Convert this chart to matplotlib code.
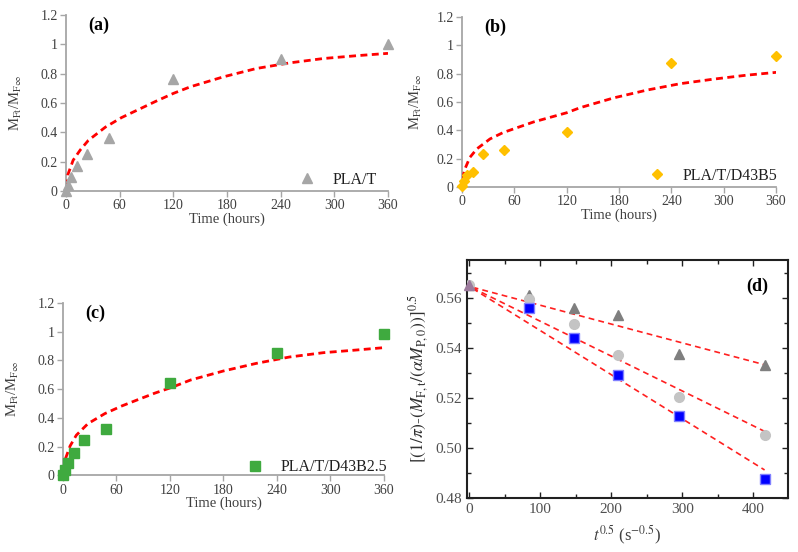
import numpy as np
import matplotlib
matplotlib.use("Agg")
import matplotlib.pyplot as plt
from matplotlib.lines import Line2D

plt.rcParams['font.family'] = 'serif'
plt.rcParams['font.serif'] = ['Liberation Serif', 'DejaVu Serif']
plt.rcParams['mathtext.fontset'] = 'stix'

# ------------------------------------------------------------------------------
# Data
t_a = [0, 2, 6, 12, 24, 48, 120, 240, 360]
y_a = [0.0, 0.04, 0.095, 0.17, 0.25, 0.36, 0.765, 0.9, 1.0]
fit_t_a = [0.5, 2, 8, 16, 25, 44, 62, 81, 100, 120, 139, 176, 213, 250, 288, 325, 360]
fit_y_a = [0.03, 0.11, 0.21, 0.28, 0.345, 0.435, 0.5, 0.555, 0.61, 0.665, 0.71, 0.778, 0.835, 0.873, 0.903, 0.922, 0.938]

t_b = [0, 2, 6, 12, 24, 48, 120, 240, 360]
y_b = [0.01, 0.04, 0.087, 0.11, 0.235, 0.262, 0.39, 0.875, 0.925]
fit_t_b = [0.5, 3.4, 9, 17, 32, 47, 82, 120, 135, 174, 212, 250, 288, 326, 360]
fit_y_b = [0.06, 0.13, 0.21, 0.27, 0.34, 0.385, 0.46, 0.525, 0.56, 0.63, 0.685, 0.73, 0.762, 0.79, 0.81]

t_c = [0, 2, 6, 12, 24, 48, 120, 240, 360]
y_c = [0.005, 0.04, 0.085, 0.155, 0.247, 0.323, 0.645, 0.853, 0.985]
fit_t_c = [0.5, 3, 8, 15, 28, 47, 66, 85, 103, 122, 143, 180, 217, 254, 292, 330, 360]
fit_y_c = [0.04, 0.12, 0.205, 0.28, 0.36, 0.43, 0.483, 0.529, 0.572, 0.612, 0.663, 0.726, 0.779, 0.823, 0.853, 0.872, 0.888]

x_d = [0, 85, 147, 209, 295, 416]
tri_d = [0.5649, 0.5609, 0.5559, 0.5529, 0.5376, 0.5332]
circ_d = [0.5649, 0.5593, 0.5495, 0.5372, 0.5204, 0.5051]
sq_d = [0.5649, 0.5559, 0.5439, 0.5292, 0.5128, 0.4875]
line_x_d = [5, 416]
line_tri_d = [0.5641, 0.5332]
line_circ_d = [0.5638, 0.5066]
line_sq_d = [0.5636, 0.4912]

labels = ['PLA/T', 'PLA/T/D43B5', 'PLA/T/D43B2.5']

# ------------------------------------------------------------------------------
fig = plt.figure(figsize=(7.98, 5.52), dpi=100)

axis_gray = '#A6A6A6'
text_gray = '#404040'


def release_panel(rect, t, y, ft, fy, marker, color, ms, label, tag, leg_xy, ylab_x):
    ax = fig.add_axes(rect)
    ax.plot(ft, fy, color='#FF0000', lw=2, dashes=(2.5, 1.6), zorder=3)
    ax.plot(t, y, linestyle='none', marker=marker, color=color, ms=ms,
            mec=color, clip_on=False, zorder=4)
    ax.set_xlim(0, 360)
    ax.set_ylim(0, 1.2)
    ax.set_xticks(np.arange(0, 361, 60))
    ax.set_yticks([0, 0.2, 0.4, 0.6, 0.8, 1.0, 1.2])
    ax.set_yticklabels(['0', '0.2', '0.4', '0.6', '0.8', '1', '1.2'])
    for s in ['top', 'right']:
        ax.spines[s].set_visible(False)
    for s in ['left', 'bottom']:
        ax.spines[s].set_color(axis_gray)
        ax.spines[s].set_linewidth(1.3)
    ax.tick_params(direction='out', length=4, width=1, color=axis_gray,
                   labelcolor=text_gray, labelsize=10, pad=2)
    ax.set_xlabel('Time (hours)', fontsize=10.5, color=text_gray, labelpad=0)
    ax.set_ylabel(r'M$_{\mathrm{Ft}}$/M$_{\mathrm{F\infty}}$', fontsize=10.5,
                  color=text_gray)
    ax.yaxis.set_label_coords(ylab_x, 0.5)
    ax.text(0.07, 0.94, tag, transform=ax.transAxes, fontsize=13,
            fontweight='bold', ha='left', va='center')
    h = Line2D([], [], linestyle='none', marker=marker, color=color, ms=ms - 0.5)
    ax.legend([h], [label], loc='center left', bbox_to_anchor=leg_xy,
              frameon=False, fontsize=11.5, handlelength=1.0, handletextpad=1.1,
              borderpad=0, borderaxespad=0, labelcolor='#202020')
    return ax


release_panel([0.0827, 0.654, 0.4035, 0.319], t_a, y_a, fit_t_a, fit_y_a,
              '^', '#A6A6A6', 7.5, labels[0], '(a)', (0.724, 0.063), -0.13)
release_panel([0.579, 0.661, 0.3935, 0.308], t_b, y_b, fit_t_b, fit_y_b,
              'D', '#FFC000', 5.5, labels[1], '(b)', (0.594, 0.066), -0.12)
release_panel([0.0789, 0.1386, 0.4023, 0.313], t_c, y_c, fit_t_c, fit_y_c,
              's', '#3FAA3F', 7, labels[2], '(c)', (0.574, 0.047), -0.13)

# (d) ---------------------------------------------------------------------------
axd = fig.add_axes([0.5852, 0.0978, 0.4023, 0.4312])
for ly in [line_tri_d, line_circ_d, line_sq_d]:
    axd.plot(line_x_d, ly, color='#FF2020', lw=1.2, dashes=(3.5, 2.5), zorder=2)
axd.plot(x_d, tri_d, linestyle='none', marker='^', color='#7F7F7F', ms=7, zorder=3)
axd.plot(x_d, circ_d, linestyle='none', marker='o', color='#C4C4C4', ms=7, zorder=3)
axd.plot(x_d[1:], sq_d[1:], linestyle='none', marker='s', color='#0000FF',
         mec='#8080FF', ms=6.5, zorder=3)
axd.plot(x_d[0], tri_d[0], linestyle='none', marker='^', color='#9C7A9C', ms=7,
         clip_on=False, zorder=4)
axd.set_xlim(-3, 449)
axd.set_ylim(0.48, 0.575)
axd.set_xticks([0, 100, 200, 300, 400])
axd.set_xticks(np.arange(50, 450, 100), minor=True)
axd.set_yticks([0.48, 0.50, 0.52, 0.54, 0.56])
axd.set_yticklabels(['0.48', '0.50', '0.52', '0.54', '0.56'])
axd.set_yticks(np.arange(0.49, 0.575, 0.02), minor=True)
for s in axd.spines.values():
    s.set_linewidth(1.5)
    s.set_color('#202020')
axd.tick_params(which='both', direction='in', top=True, right=True,
                labelcolor='#505050', labelsize=11, color='#202020')
axd.tick_params(which='major', length=4, width=1)
axd.tick_params(which='minor', length=3, width=1)
axd.set_xlabel(r'$t^{0.5}$ (s$^{-0.5}$)', fontsize=12, color='#404040', labelpad=6)
axd.set_ylabel(r'$[(1/\pi)$-$(M_{\mathrm{F,t}}/(\alpha M_{\mathrm{P,0}}))]^{0.5}$',
               fontsize=12.5, color='#303030', labelpad=4)
axd.text(0.905, 0.89, '(d)', transform=axd.transAxes, fontsize=13,
         fontweight='bold', ha='center', va='center')

fig.savefig('out.png', dpi=100)
